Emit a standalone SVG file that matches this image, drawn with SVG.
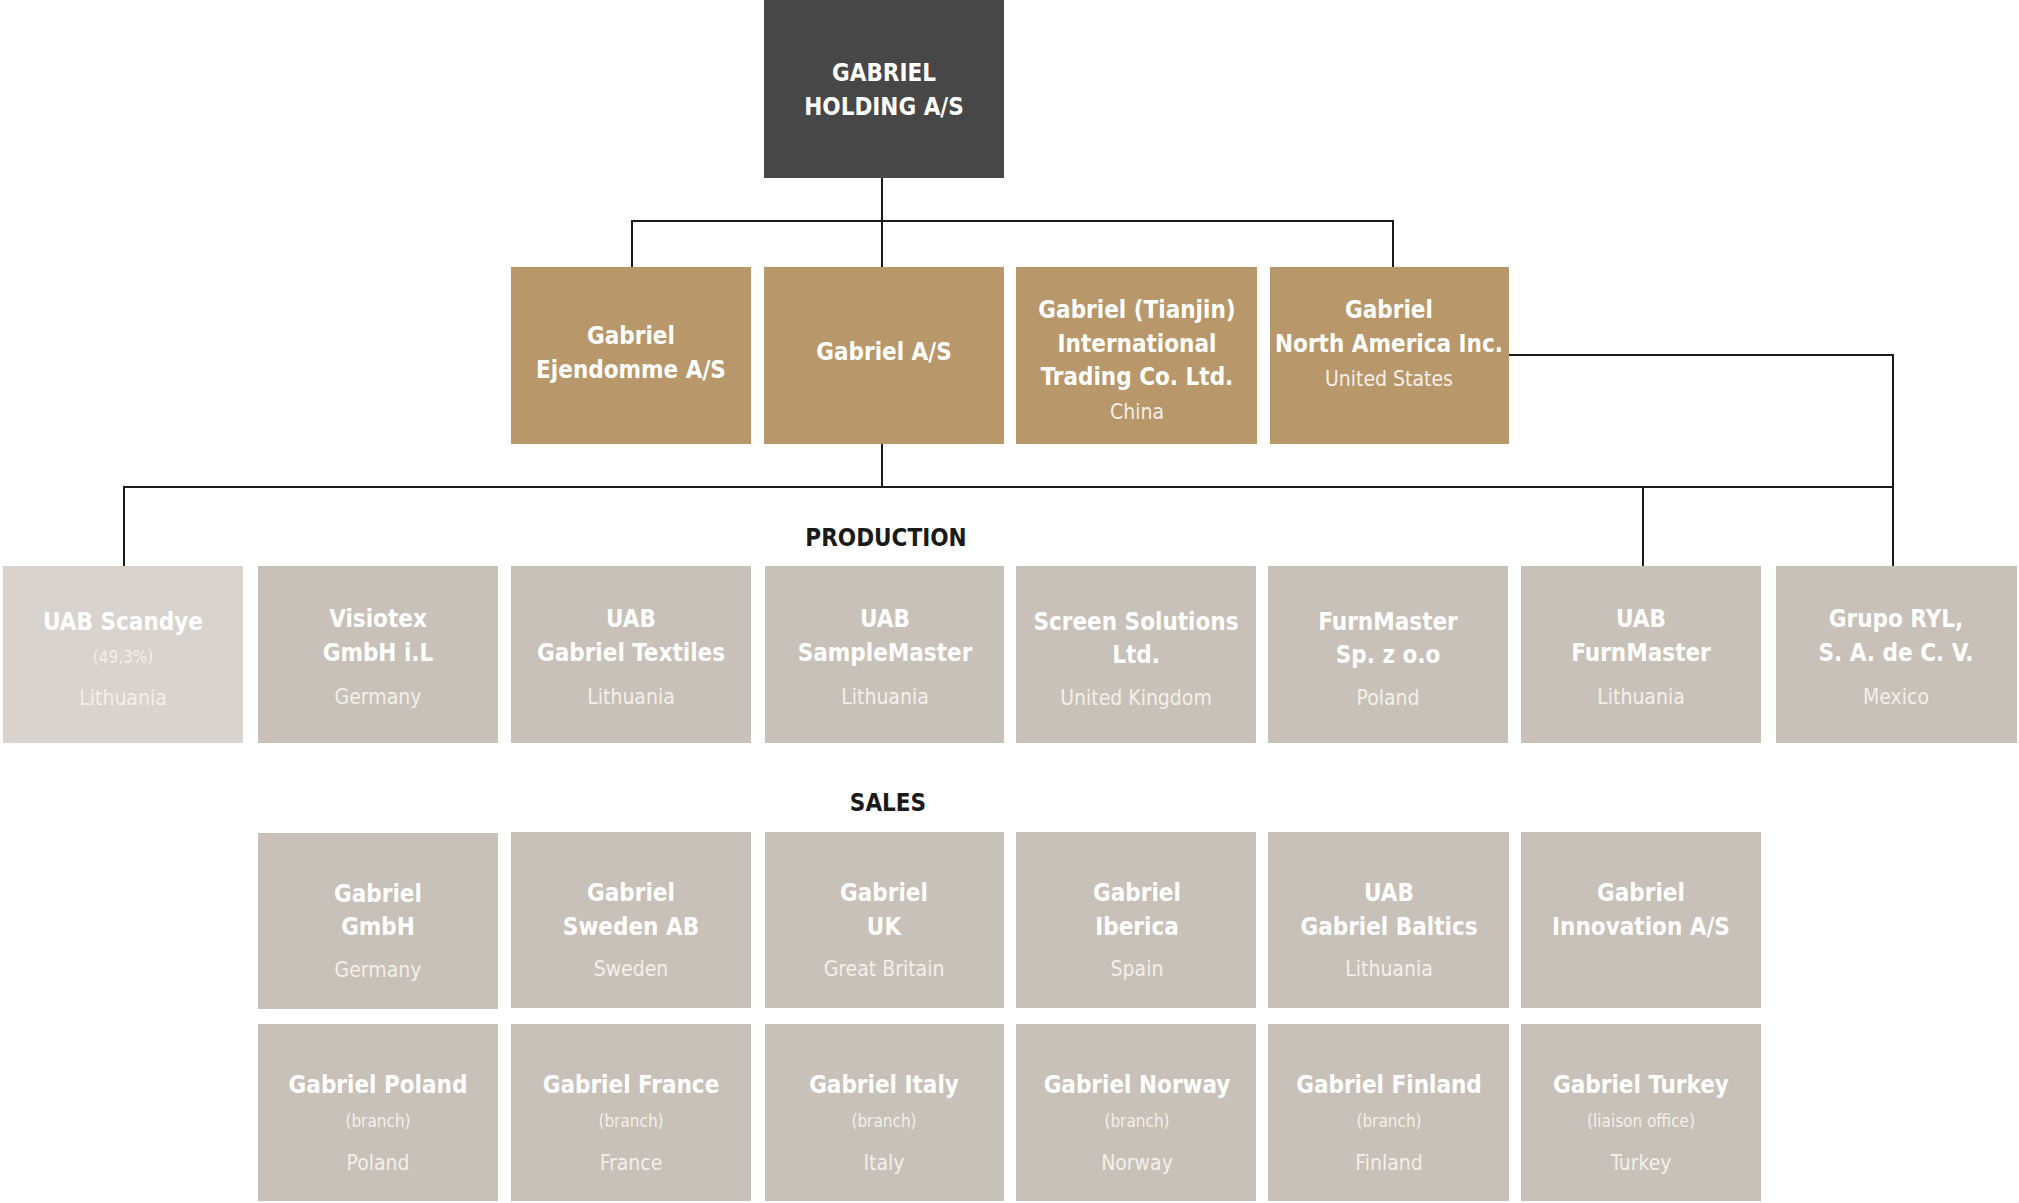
<svg xmlns="http://www.w3.org/2000/svg" width="2019" height="1203" viewBox="0 0 2019 1203">
<style>
text{font-family:"DejaVu Sans Condensed","Roboto",sans-serif;fill:#fff;text-anchor:middle;dominant-baseline:central}
.t{font-size:24px;font-weight:bold}
.c{font-size:21px;fill:#f4efe9}
.s{font-size:17px;fill:#f4efe9}
.h{font-size:24px;font-weight:bold;fill:#1a1a1a}
.top{fill:#474747}.gold{fill:#b8986a}.grey{fill:#c8c1b9}.light{fill:#d8d3ce}
.con{fill:none;stroke:#1a1a1a;stroke-width:2}
</style>
<g id="connectors" class="con">
<path d="M882 178V267M632 267V221H1393V267"/>
<path d="M882 444V487M124 566V487H1893V566M1643 487V566M1509 355H1893V487"/>
</g>
<g id="holding"><rect class="top" x="764" y="0" width="240" height="178"/><text class="t" x="884" y="73">GABRIEL</text><text class="t" x="884" y="107">HOLDING A/S</text></g>
<g id="ejendomme"><rect class="gold" x="511" y="267" width="240" height="177"/><text class="t" x="631" y="336">Gabriel</text><text class="t" x="631" y="370">Ejendomme A/S</text></g>
<g id="gabrielas"><rect class="gold" x="764" y="267" width="240" height="177"/><text class="t" x="884" y="352">Gabriel A/S</text></g>
<g id="tianjin"><rect class="gold" x="1016" y="267" width="241" height="177"/><text class="t" x="1137" y="310">Gabriel (Tianjin)</text><text class="t" x="1137" y="344">International</text><text class="t" x="1137" y="377">Trading Co. Ltd.</text><text class="c" x="1137" y="412">China</text></g>
<g id="northamerica"><rect class="gold" x="1270" y="267" width="239" height="177"/><text class="t" x="1389" y="310">Gabriel</text><text class="t" x="1389" y="344">North America Inc.</text><text class="c" x="1389" y="379">United States</text></g>
<text class="h" x="886" y="538">PRODUCTION</text>
<text class="h" x="888" y="803">SALES</text>
<g id="scandye"><rect class="light" x="3" y="566" width="240" height="177"/><text class="t" x="123" y="622">UAB Scandye</text><text class="s" x="123" y="657">(49,3%)</text><text class="c" x="123" y="698">Lithuania</text></g>
<g id="visiotex"><rect class="grey" x="258" y="566" width="240" height="177"/><text class="t" x="378" y="619">Visiotex</text><text class="t" x="378" y="653">GmbH i.L</text><text class="c" x="378" y="697">Germany</text></g>
<g id="textiles"><rect class="grey" x="511" y="566" width="240" height="177"/><text class="t" x="631" y="619">UAB</text><text class="t" x="631" y="653">Gabriel Textiles</text><text class="c" x="631" y="697">Lithuania</text></g>
<g id="samplemaster"><rect class="grey" x="765" y="566" width="239" height="177"/><text class="t" x="885" y="619">UAB</text><text class="t" x="885" y="653">SampleMaster</text><text class="c" x="885" y="697">Lithuania</text></g>
<g id="screen"><rect class="grey" x="1016" y="566" width="240" height="177"/><text class="t" x="1136" y="622">Screen Solutions</text><text class="t" x="1136" y="655">Ltd.</text><text class="c" x="1136" y="698">United Kingdom</text></g>
<g id="furnmasterpl"><rect class="grey" x="1268" y="566" width="240" height="177"/><text class="t" x="1388" y="622">FurnMaster</text><text class="t" x="1388" y="655">Sp. z o.o</text><text class="c" x="1388" y="698">Poland</text></g>
<g id="furnmasterlt"><rect class="grey" x="1521" y="566" width="240" height="177"/><text class="t" x="1641" y="619">UAB</text><text class="t" x="1641" y="653">FurnMaster</text><text class="c" x="1641" y="697">Lithuania</text></g>
<g id="ryl"><rect class="grey" x="1776" y="566" width="241" height="177"/><text class="t" x="1896" y="619">Grupo RYL,</text><text class="t" x="1896" y="653">S. A. de C. V.</text><text class="c" x="1896" y="697">Mexico</text></g>
<g id="gmbh"><rect class="grey" x="258" y="833" width="240" height="176"/><text class="t" x="378" y="894">Gabriel</text><text class="t" x="378" y="927">GmbH</text><text class="c" x="378" y="970">Germany</text></g>
<g id="sweden"><rect class="grey" x="511" y="832" width="240" height="176"/><text class="t" x="631" y="893">Gabriel</text><text class="t" x="631" y="927">Sweden AB</text><text class="c" x="631" y="969">Sweden</text></g>
<g id="uk"><rect class="grey" x="765" y="832" width="239" height="176"/><text class="t" x="884" y="893">Gabriel</text><text class="t" x="884" y="927">UK</text><text class="c" x="884" y="969">Great Britain</text></g>
<g id="iberica"><rect class="grey" x="1016" y="832" width="240" height="176"/><text class="t" x="1137" y="893">Gabriel</text><text class="t" x="1137" y="927">Iberica</text><text class="c" x="1137" y="969">Spain</text></g>
<g id="baltics"><rect class="grey" x="1268" y="832" width="241" height="176"/><text class="t" x="1389" y="893">UAB</text><text class="t" x="1389" y="927">Gabriel Baltics</text><text class="c" x="1389" y="969">Lithuania</text></g>
<g id="innovation"><rect class="grey" x="1521" y="832" width="240" height="176"/><text class="t" x="1641" y="893">Gabriel</text><text class="t" x="1641" y="927">Innovation A/S</text></g>
<g id="poland"><rect class="grey" x="258" y="1024" width="240" height="177"/><text class="t" x="378" y="1085">Gabriel Poland</text><text class="s" x="378" y="1121">(branch)</text><text class="c" x="378" y="1163">Poland</text></g>
<g id="france"><rect class="grey" x="511" y="1024" width="240" height="177"/><text class="t" x="631" y="1085">Gabriel France</text><text class="s" x="631" y="1121">(branch)</text><text class="c" x="631" y="1163">France</text></g>
<g id="italy"><rect class="grey" x="765" y="1024" width="239" height="177"/><text class="t" x="884" y="1085">Gabriel Italy</text><text class="s" x="884" y="1121">(branch)</text><text class="c" x="884" y="1163">Italy</text></g>
<g id="norway"><rect class="grey" x="1016" y="1024" width="240" height="177"/><text class="t" x="1137" y="1085">Gabriel Norway</text><text class="s" x="1137" y="1121">(branch)</text><text class="c" x="1137" y="1163">Norway</text></g>
<g id="finland"><rect class="grey" x="1268" y="1024" width="241" height="177"/><text class="t" x="1389" y="1085">Gabriel Finland</text><text class="s" x="1389" y="1121">(branch)</text><text class="c" x="1389" y="1163">Finland</text></g>
<g id="turkey"><rect class="grey" x="1521" y="1024" width="240" height="177"/><text class="t" x="1641" y="1085">Gabriel Turkey</text><text class="s" x="1641" y="1121">(liaison office)</text><text class="c" x="1641" y="1163">Turkey</text></g>
</svg>
